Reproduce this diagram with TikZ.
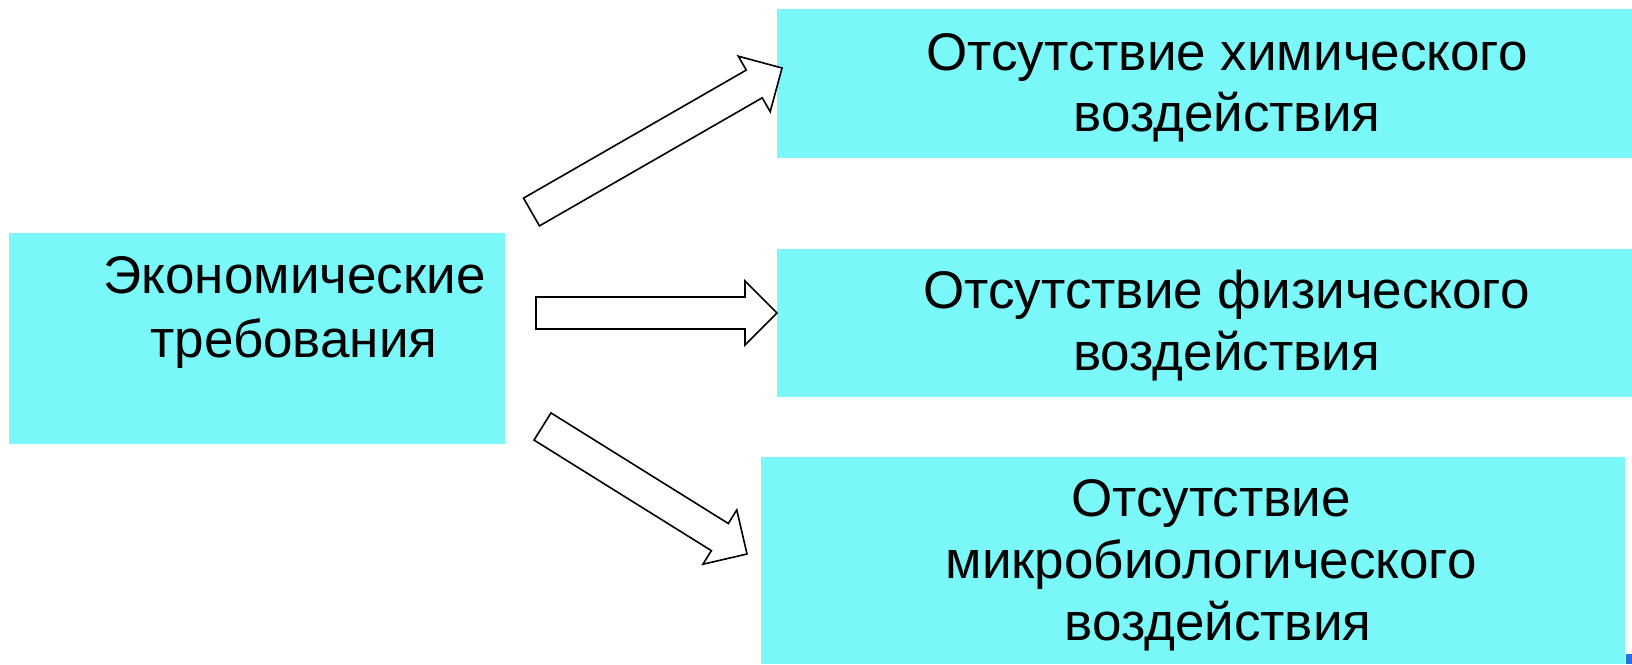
\documentclass[tikz,border=0pt]{standalone}
\usepackage{fontspec}
\setmainfont{Liberation Sans}
\usetikzlibrary{calc}
\definecolor{boxcyan}{RGB}{122,248,249}
\definecolor{markblue}{RGB}{40,110,220}
\tikzset{
  cbox/.style={fill=boxcyan, draw=none, inner sep=0pt, outer sep=0pt},
  txt/.style={anchor=base, inner sep=0pt, font=\fontsize{53}{62}\selectfont},
  barrowst/.style={draw=black, fill=white, line width=1.6pt, line join=miter},
}
\newcommand\blkarrow[2]{%
  \coordinate (hb) at ($(#2)!32pt!(#1)$);
  \draw[barrowst] ($(#1)!16pt!90:(#2)$) -- ($(hb)!16pt!-90:(#1)$) -- ($(hb)!32pt!-90:(#1)$) -- (#2)
    -- ($(hb)!32pt!90:(#1)$) -- ($(hb)!16pt!90:(#1)$) -- ($(#1)!16pt!-90:(#2)$) -- cycle;
}
\begin{document}
\begin{tikzpicture}[x=1pt,y=-1pt]
\useasboundingbox (0,0) rectangle (1632,664);
% boxes
\node[cbox, minimum width=496pt, minimum height=211pt] (L) at (257,338.5) {};
\node[cbox, minimum width=855pt, minimum height=149pt] (A) at (1204.5,83) {};
\node[cbox, minimum width=855pt, minimum height=148pt] (B) at (1204.5,323) {};
\node[cbox, minimum width=864pt, minimum height=207pt] (C) at (1193,560.5) {};
\fill[markblue] (1626,654) rectangle (1632,664);
% texts
\node[txt] (L1) at (294.5,293) {Экономические};
\node[txt] (L2) at (294,357) {требования};
\node[txt] (A1) at (1227,70) {Отсутствие химического};
\node[txt] (A2) at (1227,131) {воздействия};
\node[txt] (B1) at (1226.5,308) {Отсутствие физического};
\node[txt] (B2) at (1226.5,370) {воздействия};
\node[txt] (C1) at (1211,516) {Отсутствие};
\node[txt] (C2) at (1211,578) {микробиологического};
\node[txt] (C3) at (1218,640) {воздействия};
% arrow ends
\coordinate (t1) at (531.5,212);
\coordinate (h1) at (782,68);
\coordinate (t2) at (536,313);
\coordinate (h2) at (777,313);
\coordinate (t3) at (542.5,426.5);
\coordinate (h3) at (747,554);
\blkarrow{t1}{h1}
\blkarrow{t2}{h2}
\blkarrow{t3}{h3}
\end{tikzpicture}
\end{document}
